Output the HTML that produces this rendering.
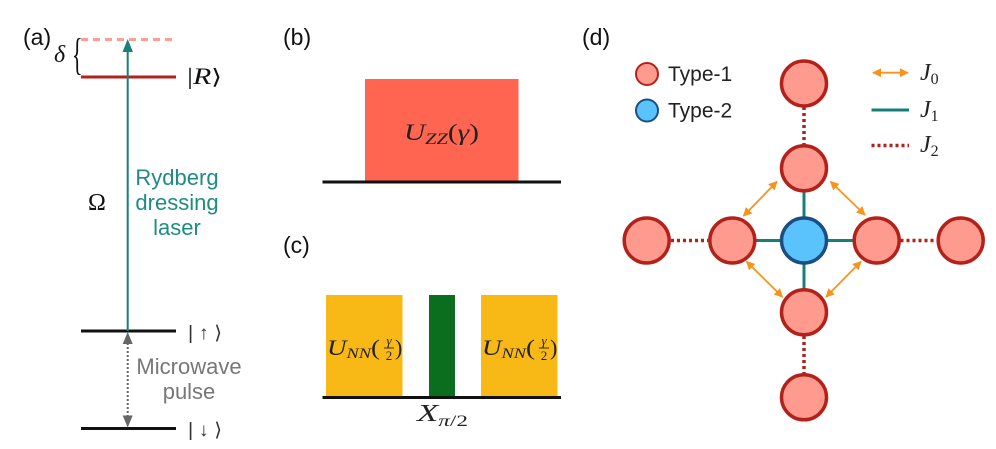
<!DOCTYPE html>
<html><head><meta charset="utf-8"><style>
html,body{margin:0;padding:0;background:#fff;}
svg{display:block;}
.sans{font-family:"Liberation Sans",Arial,sans-serif;}
.ser{font-family:"Liberation Serif","DejaVu Serif",serif;}
.it{font-style:italic;}
</style></head><body>
<svg width="996" height="449" viewBox="0 0 996 449" xmlns="http://www.w3.org/2000/svg">
<defs>
<marker id="oa" viewBox="0 0 10 10" refX="9" refY="5" markerWidth="5" markerHeight="5" orient="auto-start-reverse">
<path d="M0,0 L10,5 L0,10 Z" fill="#F7941D"/>
</marker>
</defs>
<rect width="996" height="449" fill="#fff"/>

<!-- Panel labels -->
<text x="23" y="45" class="sans" font-size="23" fill="#111">(a)</text>
<text x="283" y="45" class="sans" font-size="23" fill="#111">(b)</text>
<text x="283" y="253" class="sans" font-size="23" fill="#111">(c)</text>
<text x="582" y="45" class="sans" font-size="23" fill="#111">(d)</text>

<!-- Panel a -->
<line x1="81" y1="39.5" x2="176" y2="39.5" stroke="#FF9E95" stroke-width="3" stroke-dasharray="7,5"/>
<line x1="81" y1="77" x2="176" y2="77" stroke="#B3221A" stroke-width="3"/>
<line x1="81" y1="331" x2="176" y2="331" stroke="#111" stroke-width="3"/>
<line x1="81" y1="428.5" x2="176" y2="428.5" stroke="#111" stroke-width="3"/>
<line x1="127.7" y1="50" x2="127.7" y2="331" stroke="#1A8078" stroke-width="2"/>
<path d="M127.7,39 L122.5,52 L132.9,52 Z" fill="#1A8078"/>
<line x1="127.7" y1="343" x2="127.7" y2="417" stroke="#666" stroke-width="2" stroke-dasharray="2,2"/>
<path d="M127.7,332 L122.7,344 L132.7,344 Z" fill="#666"/>
<path d="M127.7,427.5 L122.7,415.5 L132.7,415.5 Z" fill="#666"/>

<text x="54" y="62" class="ser it" font-size="24" fill="#111">δ</text>
<text transform="translate(72,69) scale(0.5,1)" class="ser" font-size="44" fill="#111">{</text>
<text x="187" y="84" class="ser" font-size="23" fill="#111" textLength="35" lengthAdjust="spacingAndGlyphs">|<tspan class="it">R</tspan><tspan font-family="DejaVu Serif" font-size="21">⟩</tspan></text>
<text x="88" y="210" class="ser" font-size="24" fill="#111">Ω</text>

<text x="177" y="185" class="sans" font-size="22" fill="#1E8C83" text-anchor="middle">Rydberg</text>
<text x="177" y="210" class="sans" font-size="22" fill="#1E8C83" text-anchor="middle">dressing</text>
<text x="177" y="235" class="sans" font-size="22" fill="#1E8C83" text-anchor="middle">laser</text>

<text x="189" y="374" class="sans" font-size="22" fill="#777" text-anchor="middle">Microwave</text>
<text x="189" y="399" class="sans" font-size="22" fill="#777" text-anchor="middle">pulse</text>

<text x="188" y="339" class="sans" font-size="19" fill="#333" textLength="34" lengthAdjust="spacingAndGlyphs">| ↑ <tspan font-family="DejaVu Sans">⟩</tspan></text>
<text x="188" y="436" class="sans" font-size="19" fill="#333" textLength="34" lengthAdjust="spacingAndGlyphs">| ↓ <tspan font-family="DejaVu Sans">⟩</tspan></text>

<!-- Panel b -->
<rect x="365" y="79" width="153.5" height="103" fill="#FF6550"/>
<line x1="322.5" y1="182" x2="561" y2="182" stroke="#111" stroke-width="3"/>
<text x="404" y="140" class="ser" font-size="23" fill="#222" textLength="75" lengthAdjust="spacingAndGlyphs"><tspan class="it">U</tspan><tspan class="it" font-size="16" dy="4">ZZ</tspan><tspan dy="-4">(</tspan><tspan class="it">γ</tspan>)</text>

<!-- Panel c -->
<rect x="326" y="295" width="76.5" height="102" fill="#F8B916"/>
<rect x="429" y="295" width="26" height="102" fill="#0B6E1F"/>
<rect x="481" y="295" width="76.5" height="102" fill="#F8B916"/>
<line x1="322.5" y1="397.5" x2="561" y2="397.5" stroke="#111" stroke-width="3"/>

<g class="ser" fill="#222">
<text x="327" y="355" font-size="22" textLength="53" lengthAdjust="spacingAndGlyphs"><tspan class="it">U</tspan><tspan class="it" font-size="15" dy="3">NN</tspan><tspan dy="-3">(</tspan></text>
<text x="389" y="345" font-size="13" class="it" text-anchor="middle">γ</text>
<line x1="384" y1="348" x2="394" y2="348" stroke="#222" stroke-width="0.9"/>
<text x="389" y="360" font-size="13" text-anchor="middle">2</text>
<text x="395" y="355" font-size="22">)</text>

<text x="482" y="355" font-size="22" textLength="53" lengthAdjust="spacingAndGlyphs"><tspan class="it">U</tspan><tspan class="it" font-size="15" dy="3">NN</tspan><tspan dy="-3">(</tspan></text>
<text x="544" y="345" font-size="13" class="it" text-anchor="middle">γ</text>
<line x1="539" y1="348" x2="549" y2="348" stroke="#222" stroke-width="0.9"/>
<text x="544" y="360" font-size="13" text-anchor="middle">2</text>
<text x="550" y="355" font-size="22">)</text>

<text x="417" y="421" font-size="24" textLength="51" lengthAdjust="spacingAndGlyphs"><tspan class="it">X</tspan><tspan class="it" font-size="16" dy="5">π</tspan><tspan font-size="16">/2</tspan></text>
</g>

<!-- Panel d legend -->
<circle cx="647" cy="74" r="11" fill="#FF9A8F" stroke="#B3221A" stroke-width="2"/>
<circle cx="647" cy="110.5" r="11" fill="#5BC3FB" stroke="#1B4F84" stroke-width="2"/>
<text x="668" y="81" class="sans" font-size="21" fill="#222">Type-1</text>
<text x="668" y="117.5" class="sans" font-size="21" fill="#222">Type-2</text>

<line x1="873" y1="72.7" x2="908" y2="72.7" stroke="#F7941D" stroke-width="1.8" marker-start="url(#oa)" marker-end="url(#oa)"/>
<line x1="871.5" y1="110" x2="909" y2="110" stroke="#167F78" stroke-width="3"/>
<line x1="871.5" y1="145.5" x2="909" y2="145.5" stroke="#B3221A" stroke-width="3.5" stroke-dasharray="3,3"/>
<g class="ser" fill="#222">
<text x="920" y="80" font-size="24" class="it">J<tspan font-size="16" dy="4" font-style="normal">0</tspan></text>
<text x="920" y="117" font-size="24" class="it">J<tspan font-size="16" dy="4" font-style="normal">1</tspan></text>
<text x="920" y="152" font-size="24" class="it">J<tspan font-size="16" dy="4" font-style="normal">2</tspan></text>
</g>

<!-- Panel d graph: J2 dotted -->
<g stroke="#B3221A" stroke-width="3.5" stroke-dasharray="3,3">
<line x1="804" y1="107" x2="804" y2="144"/>
<line x1="804" y1="336" x2="804" y2="373"/>
<line x1="671" y1="240.5" x2="708" y2="240.5"/>
<line x1="900.5" y1="240.5" x2="937" y2="240.5"/>
</g>
<!-- J1 teal -->
<g stroke="#167F78" stroke-width="3">
<line x1="804" y1="168" x2="804" y2="312"/>
<line x1="732" y1="240.5" x2="877" y2="240.5"/>
</g>
<!-- J0 orange arrows -->
<g stroke="#F7941D" stroke-width="1.8" marker-start="url(#oa)" marker-end="url(#oa)">
<line x1="777" y1="181.5" x2="743.5" y2="216"/>
<line x1="830.5" y1="181.5" x2="865" y2="215"/>
<line x1="746.5" y1="261.5" x2="782.5" y2="297"/>
<line x1="861" y1="261.5" x2="826" y2="297"/>
</g>
<!-- nodes -->
<g fill="#FF9A8F" stroke="#B3221A" stroke-width="3.5">
<circle cx="804" cy="83.5" r="22.5"/>
<circle cx="804" cy="168.3" r="22.5"/>
<circle cx="804" cy="312.3" r="22.5"/>
<circle cx="804" cy="397.3" r="22.5"/>
<circle cx="646.7" cy="240.5" r="22.5"/>
<circle cx="732.3" cy="240.5" r="22.5"/>
<circle cx="876.7" cy="240.5" r="22.5"/>
<circle cx="960.7" cy="240.5" r="22.5"/>
</g>
<circle cx="804" cy="240.5" r="22.5" fill="#5BC3FB" stroke="#1B4F84" stroke-width="3.5"/>
</svg>
</body></html>
